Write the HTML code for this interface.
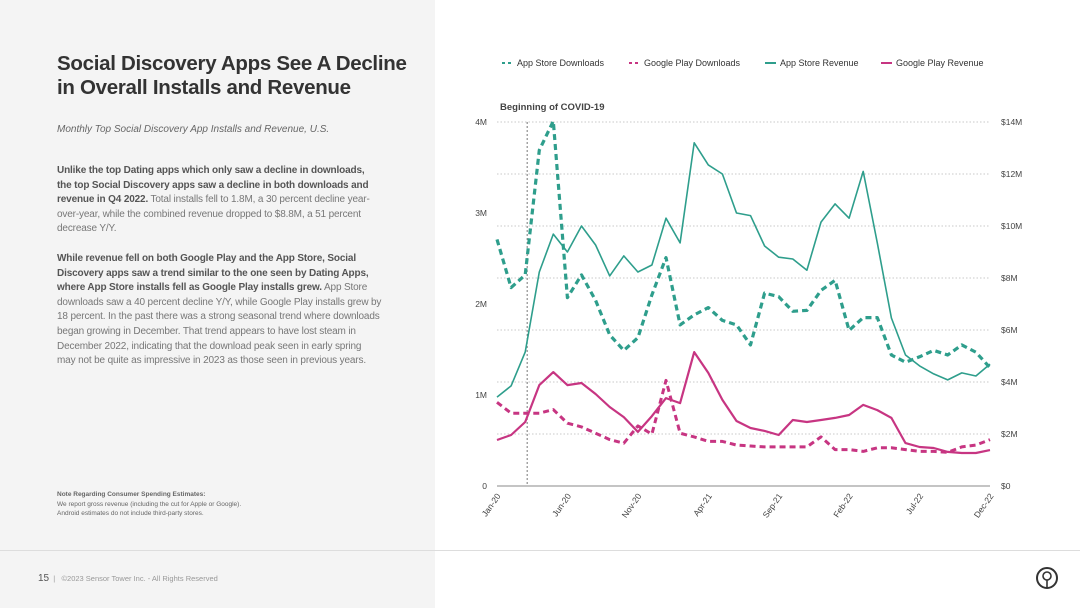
<!DOCTYPE html>
<html><head><meta charset="utf-8">
<style>
body{margin:0;width:1080px;height:608px;overflow:hidden;background:#fff;font-family:"Liberation Sans",sans-serif;position:relative}
#left{position:absolute;left:0;top:0;width:435px;height:608px;background:#f4f4f4}
.t{position:absolute;white-space:nowrap}
#title{left:57px;top:52px;font-size:20.5px;font-weight:bold;color:#333;line-height:24px;letter-spacing:-0.3px}
#sub{left:57px;top:124px;font-size:10px;font-style:italic;color:#666}
.p{left:57px;font-size:10px;line-height:14.6px;color:#777;letter-spacing:-0.15px}
.p b{color:#555}
#note{left:57px;top:490px;font-size:6.5px;line-height:9.5px;color:#666}
#foot{left:38px;top:573px;font-size:7.5px;color:#999}
#rule{position:absolute;left:0;top:550px;width:1080px;height:1px;background:#ddd}
</style></head><body>
<div id="left"></div>
<div id="rule"></div>
<div class="t" id="title">Social Discovery Apps See A Decline<br>in Overall Installs and Revenue</div>
<div class="t" id="sub">Monthly Top Social Discovery App Installs and Revenue, U.S.</div>
<div class="t p" style="top:164px"><b>Unlike the top Dating apps which only saw a decline in downloads,</b><br><b>the top Social Discovery apps saw a decline in both downloads and</b><br><b>revenue in Q4 2022.</b> Total installs fell to 1.8M, a 30 percent decline year-<br>over-year, while the combined revenue dropped to $8.8M, a 51 percent<br>decrease Y/Y.</div>
<div class="t p" style="top:252px"><b>While revenue fell on both Google Play and the App Store, Social</b><br><b>Discovery apps saw a trend similar to the one seen by Dating Apps,</b><br><b>where App Store installs fell as Google Play installs grew.</b> App Store<br>downloads saw a 40 percent decline Y/Y, while Google Play installs grew by<br>18 percent. In the past there was a strong seasonal trend where downloads<br>began growing in December. That trend appears to have lost steam in<br>December 2022, indicating that the download peak seen in early spring<br>may not be quite as impressive in 2023 as those seen in previous years.</div>
<div class="t" id="note"><b>Note Regarding Consumer Spending Estimates:</b><br>We report gross revenue (including the cut for Apple or Google).<br>Android estimates do not include third-party stores.</div>
<div class="t" id="foot"><span style="font-size:10px;color:#555">15</span> &nbsp;|&nbsp;&nbsp; ©2023 Sensor Tower Inc. - All Rights Reserved</div>
<svg id="chart" width="1080" height="608" style="position:absolute;left:0;top:0"></svg>
<script>
const months=["Jan-20","Feb-20","Mar-20","Apr-20","May-20","Jun-20","Jul-20","Aug-20","Sep-20","Oct-20","Nov-20","Dec-20","Jan-21","Feb-21","Mar-21","Apr-21","May-21","Jun-21","Jul-21","Aug-21","Sep-21","Oct-21","Nov-21","Dec-21","Jan-22","Feb-22","Mar-22","Apr-22","May-22","Jun-22","Jul-22","Aug-22","Sep-22","Oct-22","Nov-22","Dec-22"];
const appStoreDownloads=[2.71,2.18,2.32,3.69,4.01,2.07,2.32,2.04,1.66,1.49,1.63,2.10,2.51,1.77,1.88,1.96,1.82,1.77,1.55,2.12,2.08,1.92,1.93,2.15,2.26,1.71,1.85,1.85,1.44,1.36,1.42,1.49,1.44,1.55,1.47,1.30];
const googlePlayDownloads=[0.92,0.80,0.80,0.80,0.84,0.69,0.65,0.58,0.51,0.47,0.66,0.57,1.16,0.58,0.54,0.49,0.49,0.45,0.44,0.43,0.43,0.43,0.43,0.54,0.40,0.40,0.38,0.42,0.42,0.40,0.38,0.38,0.37,0.43,0.45,0.51];
const appStoreRevenue=[3.42,3.85,5.15,8.23,9.69,9.0,10.0,9.27,8.08,8.85,8.23,8.5,10.3,9.35,13.2,12.35,12.0,10.5,10.4,9.23,8.8,8.73,8.3,10.15,10.85,10.3,12.1,9.35,6.46,5.04,4.62,4.31,4.08,4.35,4.23,4.69];
const googlePlayRevenue=[1.77,1.96,2.46,3.88,4.38,3.88,3.96,3.54,3.04,2.65,2.08,2.69,3.38,3.19,5.15,4.35,3.31,2.5,2.23,2.12,1.96,2.54,2.46,2.54,2.62,2.73,3.12,2.92,2.62,1.65,1.5,1.46,1.31,1.27,1.27,1.38];
const leftTicks=[0,1,2,3,4];
const leftTickLabels=["0","1M","2M","3M","4M"];
const rightTicks=[0,2,4,6,8,10,12,14];
const rightTickLabels=["$0","$2M","$4M","$6M","$8M","$10M","$12M","$14M"];
const xLabelIdx=[0,5,10,15,20,25,30,35];
const covidIdx=2;

const X0=497,X1=990,Y0=486,Y1=122;
const xS=i=>X0+i*(X1-X0)/(months.length-1);
const yL=v=>Y0-v/4*(Y0-Y1);
const yR=v=>Y0-v/14*(Y0-Y1);
const svg=document.getElementById('chart');
const NS='http://www.w3.org/2000/svg';
function mk(tag,attrs,parent){const e=document.createElementNS(NS,tag);for(const k in attrs)e.setAttribute(k,attrs[k]);(parent||svg).appendChild(e);return e;}
const TEAL='#2e9e8c',MAG='#c73582';

rightTicks.forEach((v,k)=>{
  if(v>0){const g=mk('line',{x1:X0,x2:X1,y1:yR(v),y2:yR(v),stroke:'#c8c8c8','stroke-width':1,'stroke-dasharray':'1.5,2'});
  
  }
  const t=mk('text',{x:1001,y:yR(v)+3,'font-size':8.5,fill:'#444'});t.textContent=rightTickLabels[k];
  
  
});
leftTicks.forEach((v,k)=>{
  const t=mk('text',{x:487,y:yL(v)+3,'font-size':8.5,fill:'#444','text-anchor':'end'});t.textContent=leftTickLabels[k];
  
  
});
const ax=mk('line',{x1:X0,x2:X1,y1:Y0,y2:Y0,stroke:'#888','stroke-width':1});


xLabelIdx.forEach(i=>{
  const x=xS(i),y=Y0+10;
  const t=mk('text',{x:x+4,y:y,'font-size':8.5,fill:'#444','text-anchor':'end',transform:`rotate(-55 ${x+4} ${y})`});t.textContent=months[i];
  
  
});
const cv=mk('line',{x1:xS(covidIdx)+2,x2:xS(covidIdx)+2,y1:Y1,y2:Y0,stroke:'#777','stroke-width':1,'stroke-dasharray':'2,2'});


const ct=mk('text',{x:500,y:110,'font-size':9.5,fill:'#444','font-weight':'bold'});ct.textContent='Beginning of COVID-19';



function line(vals,sc,col,dash,name,w){
  const d=vals.map((v,i)=>(i?'L':'M')+xS(i).toFixed(1)+','+sc(v).toFixed(1)).join('');
  const p=mk('path',{d:d,fill:'none',stroke:col,'stroke-width':w,'stroke-linejoin':'round'});
  if(dash)p.setAttribute('stroke-dasharray',dash);
  
  
}
line(googlePlayDownloads,yL,MAG,'6,4','google-play-downloads-line',3);
line(appStoreDownloads,yL,TEAL,'6,4','app-store-downloads-line',3.2);
line(appStoreRevenue,yR,TEAL,null,'app-store-revenue-line',1.6);
line(googlePlayRevenue,yR,MAG,null,'google-play-revenue-line',2.2);

const leg=[['App Store Downloads',TEAL,true,502],['Google Play Downloads',MAG,true,629],['App Store Revenue',TEAL,false,765],['Google Play Revenue',MAG,false,881]];
leg.forEach(([lab,col,dash,x])=>{
  const g=mk('g',{});
  
  
  mk('line',{x1:x,x2:x+11,y1:63,y2:63,stroke:col,'stroke-width':2,'stroke-dasharray':dash?'3,3':''},g);
  const t=mk('text',{x:x+15,y:66,'font-size':9,fill:'#333'},g);t.textContent=lab;
});
const logo=mk('g',{});


mk('circle',{cx:1047,cy:578,r:10,fill:'none',stroke:'#333','stroke-width':2},logo);
mk('circle',{cx:1047,cy:576,r:4,fill:'none',stroke:'#333','stroke-width':1.6},logo);
mk('line',{x1:1047,x2:1047,y1:580,y2:588,stroke:'#333','stroke-width':1.6},logo);
</script>
</body></html>
